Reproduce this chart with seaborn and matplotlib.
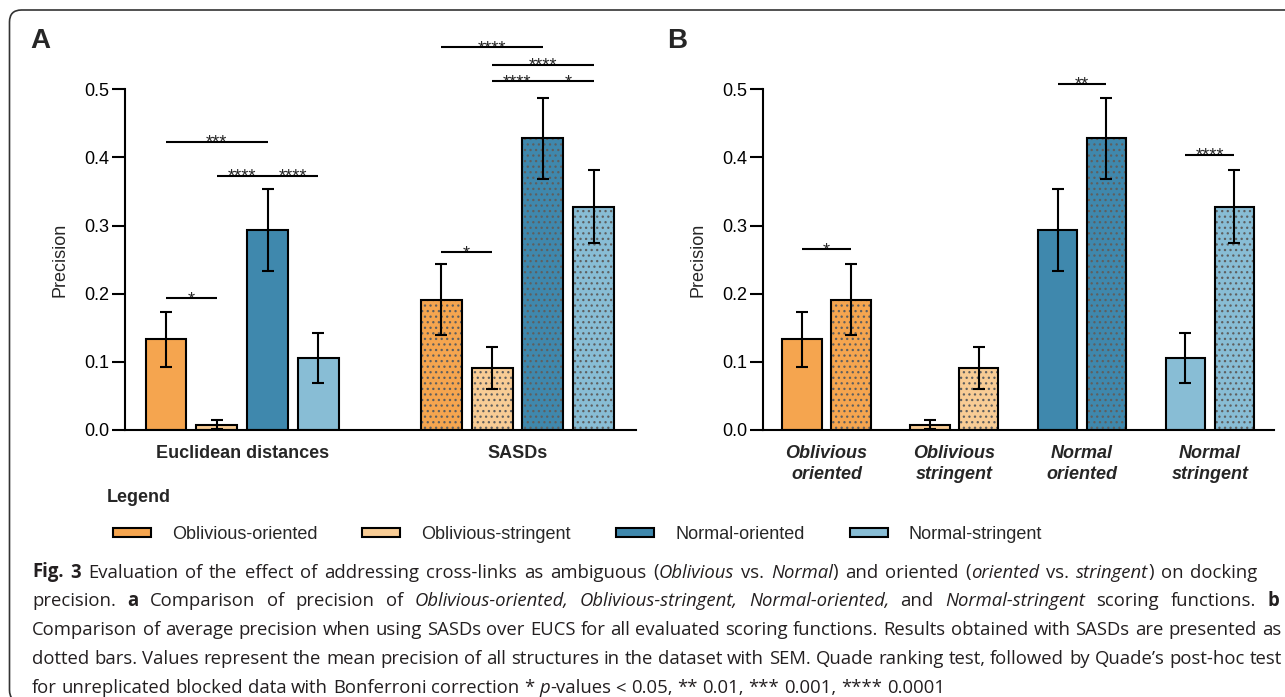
import re
import numpy as np
import pandas as pd
import matplotlib
matplotlib.use("Agg")
import matplotlib.pyplot as plt
import seaborn as sns
from matplotlib.patches import Patch, FancyBboxPatch
from matplotlib.colors import to_rgba

# ---------------- data ----------------
functions = ["Oblivious-oriented", "Oblivious-stringent", "Normal-oriented", "Normal-stringent"]
distances = ["Euclidean distances", "SASDs"]
euc_mean = [0.133, 0.008, 0.294, 0.106]
euc_sem = [0.040, 0.006, 0.060, 0.037]
sasd_mean = [0.191, 0.091, 0.428, 0.328]
sasd_sem = [0.052, 0.031, 0.059, 0.054]
colors = ["#F5A54F", "#F8CC95", "#3F88AD", "#88BDD5"]
b_tick_labels = ["Oblivious\noriented", "Oblivious\nstringent", "Normal\noriented", "Normal\nstringent"]
y_ticks = [0.0, 0.1, 0.2, 0.3, 0.4, 0.5]

# significance: (distance, function 1, function 2, height, label)
sig_a = [
    ("Euclidean distances", "Oblivious-oriented", "Oblivious-stringent", 0.193, "*"),
    ("Euclidean distances", "Oblivious-oriented", "Normal-oriented", 0.423, "***"),
    ("Euclidean distances", "Oblivious-stringent", "Normal-oriented", 0.373, "****"),
    ("Euclidean distances", "Normal-oriented", "Normal-stringent", 0.373, "****"),
    ("SASDs", "Oblivious-oriented", "Oblivious-stringent", 0.261, "*"),
    ("SASDs", "Oblivious-oriented", "Normal-oriented", 0.562, "****"),
    ("SASDs", "Oblivious-stringent", "Normal-stringent", 0.536, "****"),
    ("SASDs", "Oblivious-stringent", "Normal-oriented", 0.5115, "****"),
    ("SASDs", "Normal-oriented", "Normal-stringent", 0.5115, "*"),
]
# significance in B: (function, height, label) between Euclidean and SASD bars
sig_b = [
    ("Oblivious-oriented", 0.265, "*"),
    ("Normal-oriented", 0.508, "**"),
    ("Normal-stringent", 0.404, "****"),
]

caption_lines = [
    [("Fig. 3", "b"), (" Evaluation of the effect of addressing cross-links as ambiguous (", "n"),
     ("Oblivious", "i"), (" vs. ", "n"), ("Normal", "i"), (") and oriented (", "n"),
     ("oriented", "i"), (" vs. ", "n"), ("stringent", "i"), (") on docking", "n")],
    [("precision. ", "n"), ("a", "b"), (" Comparison of precision of ", "n"),
     ("Oblivious-oriented,", "i"), (" ", "n"), ("Oblivious-stringent,", "i"), (" ", "n"),
     ("Normal-oriented,", "i"), (" and ", "n"), ("Normal-stringent", "i"),
     (" scoring functions. ", "n"), ("b", "b")],
    [("Comparison of average precision when using SASDs over EUCS for all evaluated scoring "
      "functions. Results obtained with SASDs are presented as", "n")],
    [("dotted bars. Values represent the mean precision of all structures in the dataset with "
      "SEM. Quade ranking test, followed by Quade\u2019s post-hoc test", "n")],
    [("for unreplicated blocked data with Bonferroni correction * ", "n"), ("p", "i"),
     ("-values < 0.05, ** 0.01, *** 0.001, **** 0.0001", "n")],
]

rows = []
for d, means, sems in [(distances[0], euc_mean, euc_sem), (distances[1], sasd_mean, sasd_sem)]:
    for f, m, s in zip(functions, means, sems):
        rows.append({"distance": d, "function": f, "mean": m, "sem": s})
df = pd.DataFrame(rows)

# ---------------- style ----------------
sns.set_style("ticks")
plt.rcParams["font.family"] = ["Liberation Sans", "DejaVu Sans"]
plt.rcParams["hatch.linewidth"] = 0.9
W, H = 1285, 697
fig = plt.figure(figsize=(W / 100, H / 100), dpi=100)

LW = 1.5
HATCH_COLOR = "#5f5f5f"


def set_hatch(p):
    p.set_hatch("...")
    if hasattr(p, "set_hatchcolor"):
        p.set_hatchcolor(HATCH_COLOR)
    else:
        p._hatch_color = to_rgba(HATCH_COLOR)


def style_axis(ax):
    sns.despine(ax=ax)
    ax.set_ylim(0, 0.5)
    ax.set_yticks(y_ticks)
    ax.set_yticklabels([f"{t:.1f}" for t in y_ticks])
    for s in ("left", "bottom"):
        ax.spines[s].set_linewidth(LW)
        ax.spines[s].set_color("black")
    ax.tick_params(axis="y", direction="out", length=9.5, width=LW, pad=1.5,
                   labelsize=13, colors="black")
    ax.tick_params(axis="x", length=0, pad=11)
    ax.set_xlabel("")
    ax.set_ylabel("Precision", fontsize=13)
    ax.yaxis.label.set_va("center")
    ax.yaxis.set_label_coords(-0.127, 0.5)
    ax.patch.set_alpha(0)


def bracket(ax, x1, x2, y, label):
    ax.plot([x1, x2], [y, y], color="black", lw=LW, clip_on=False,
            solid_capstyle="butt", zorder=4)
    ax.annotate(label, xy=((x1 + x2) / 2, y), xytext=(0, -4.3), textcoords="offset points",
                ha="center", va="baseline", fontsize=13, annotation_clip=False)


axes_bottom = 1 - 430 / H
axes_height = (430 - 89.3) / H

# ---------------- panel A ----------------
axA = fig.add_axes([125 / W, axes_bottom, 511.4 / W, axes_height])
sns.barplot(data=df, x="distance", y="mean", hue="function", order=distances,
            hue_order=functions, palette=colors, width=0.738, gap=0.193, saturation=1,
            errorbar=None, edgecolor="black", linewidth=LW, legend=False, ax=axA)
pA = sorted(axA.patches, key=lambda p: p.get_x())
centersA = {}
for k, p in enumerate(pA):
    d, f = distances[k // 4], functions[k % 4]
    centersA[(d, f)] = p.get_x() + p.get_width() / 2
    if d == "SASDs":
        set_hatch(p)
xsA = [centersA[(r.distance, r.function)] for r in df.itertuples()]
axA.errorbar(xsA, df["mean"], yerr=df["sem"], fmt="none", ecolor="black",
             elinewidth=LW, capsize=4, capthick=LW, zorder=3)
style_axis(axA)
axA.set_xlim(-0.4257, 1.4323)
for lab in axA.get_xticklabels():
    lab.set_fontweight("bold")
    lab.set_fontsize(13)
for d, f1, f2, y, lab in sig_a:
    bracket(axA, centersA[(d, f1)], centersA[(d, f2)], y, lab)

# ---------------- panel B ----------------
axB = fig.add_axes([762.6 / W, axes_bottom, 511.1 / W, axes_height])
sns.barplot(data=df, x="function", y="mean", hue="distance", order=functions,
            hue_order=distances, palette=["#999999", "#999999"], width=0.764, gap=0.195,
            saturation=1, errorbar=None, edgecolor="black", linewidth=LW, legend=False, ax=axB)
pB = sorted(axB.patches, key=lambda p: p.get_x())
centersB = {}
for k, p in enumerate(pB):
    f, d = functions[k // 2], distances[k % 2]
    centersB[(d, f)] = p.get_x() + p.get_width() / 2
    p.set_facecolor(colors[k // 2])
    if d == "SASDs":
        set_hatch(p)
xsB = [centersB[(r.distance, r.function)] for r in df.itertuples()]
axB.errorbar(xsB, df["mean"], yerr=df["sem"], fmt="none", ecolor="black",
             elinewidth=LW, capsize=4, capthick=LW, zorder=3)
style_axis(axB)
axB.set_xlim(-0.5, 3.5)
axB.set_xticks(range(len(functions)))
axB.set_xticklabels(b_tick_labels, fontweight="bold", fontstyle="italic", fontsize=13)
for lab in axB.get_xticklabels():
    lab.set_linespacing(1.32)
for f, y, lab in sig_b:
    bracket(axB, centersB[(distances[0], f)], centersB[(distances[1], f)], y, lab)

# ---------------- panel letters ----------------
fig.text(30 / W, 1 - 48 / H, "A", fontsize=20, fontweight="bold", ha="left", va="baseline")
fig.text(667 / W, 1 - 48 / H, "B", fontsize=20, fontweight="bold", ha="left", va="baseline")

# ---------------- legend ----------------
fig.text(107 / W, 1 - 497 / H, "Legend", fontsize=13, fontweight="bold", ha="left", va="center")
handles = [Patch(facecolor=c, edgecolor="black", linewidth=LW) for c in colors]
fig.legend(handles, functions, ncol=4, loc="center left",
           bbox_to_anchor=(112.7 / W, 1 - 534.5 / H), frameon=False, fontsize=13,
           handlelength=2.1, handleheight=0.4, handletextpad=1.17, columnspacing=2.5,
           borderpad=0, borderaxespad=0)

# ---------------- caption (justified like the reference) ----------------
renderer = fig.canvas.get_renderer()
cap_family = ["Open Sans", "DejaVu Sans"]
cap_color = "#231F20"
style_kw = {"n": {}, "b": {"fontweight": "bold"}, "i": {"fontstyle": "italic"}}
cap_x0 = 32
cap_baselines = [577.5, 606.3, 635.2, 664.0, 692.8]
cap_right = [1257.7, 1279.0, 1281.0, 1281.5, None]


def tokens_of(segs):
    toks = []
    for s, st in segs:
        for m in re.finditer(r" +|[^ ]+", s):
            toks.append((m.group(), st, m.group().startswith(" ")))
    return toks


def ink_width(s, fs, st="n"):
    t = fig.text(0, 0, s, fontsize=fs, family=cap_family, **style_kw[st])
    w = t.get_window_extent(renderer).width
    t.remove()
    return w


def layout(toks, yb, fs, extra):
    space_w = ink_width("a a", fs) - ink_width("aa", fs)
    arts = []
    x = cap_x0
    for txt, st, sp in toks:
        if sp:
            x += len(txt) * space_w + extra
        else:
            t = fig.text(x / W, 1 - yb / H, txt, fontsize=fs, family=cap_family,
                         color=cap_color, ha="left", va="baseline", **style_kw[st])
            x = t.get_window_extent(renderer).x1
            arts.append(t)
    return arts, x


def natural_end(toks, fs):
    arts, x = layout(toks, 600, fs, 0.0)
    for a in arts:
        a.remove()
    return x


line_toks = [tokens_of(s) for s in caption_lines]
fs = 12.0
for _ in range(2):
    widest = max(natural_end(line_toks[2], fs), natural_end(line_toks[3], fs)) - cap_x0
    fs *= (1281.5 - cap_x0) / widest

for toks, yb, xr in zip(line_toks, cap_baselines, cap_right):
    extra = 0.0
    if xr is not None:
        n_sp = sum(1 for t in toks if t[2])
        extra = (xr - natural_end(toks, fs)) / max(n_sp, 1)
    layout(toks, yb, fs, extra)

# ---------------- border ----------------
border = FancyBboxPatch((0.095, -0.05), 13.5, 6.92,
                        boxstyle="round,pad=0,rounding_size=0.12",
                        transform=fig.dpi_scale_trans, fill=False,
                        edgecolor="#333333", linewidth=1.2)
fig.add_artist(border)

fig.savefig("out.png", dpi=100)
